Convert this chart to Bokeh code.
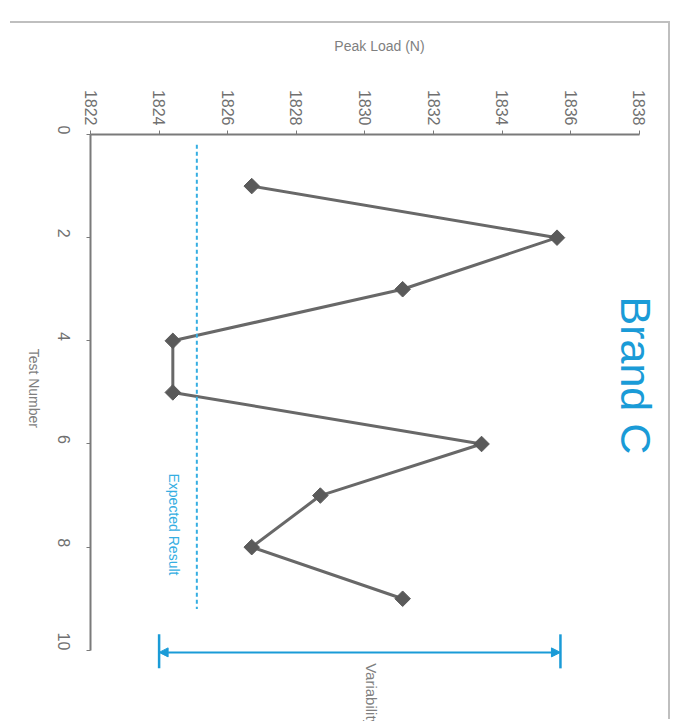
import math
from bokeh.plotting import figure
from bokeh.models import (Range1d, FixedTicker, Arrow, NormalHead, Spacer,
                          ColumnDataSource)
from bokeh.layouts import column, row
from bokeh.core.properties import value
from bokeh.embed import file_html
from bokeh.resources import INLINE

# ---- data ----
test_number = [1, 2, 3, 4, 5, 6, 7, 8, 9]
peak_load = [1826.7, 1835.6, 1831.1, 1824.4, 1824.4, 1833.4, 1828.7, 1826.7, 1831.1]
expected_result = 1825.1
expected_span = [0.2, 9.2]
variability_low = 1824.0
variability_high = 1835.7
x_ticks = [1822, 1824, 1826, 1828, 1830, 1832, 1834, 1836, 1838]
y_ticks = [0, 2, 4, 6, 8, 10]
title_text = "Brand C"

FONT = "Liberation Sans"
GREY = "#7f7f7f"
BLUE = "#1a9bd7"

p = figure(width=660, height=698, output_backend="svg", toolbar_location=None,
           x_axis_location="above",
           x_range=Range1d(1822, 1838.85), y_range=Range1d(11.38, 0),
           min_border_left=82, min_border_top=111, min_border_right=0,
           min_border_bottom=0)
p.styles = {"box-shadow": "2px -2px 0 0 #bfbfbf"}
p.outline_line_color = None
p.grid.visible = False
p.background_fill_color = "white"

xa = p.xaxis[0]
xa.ticker = FixedTicker(ticks=x_ticks)
xa.bounds = (x_ticks[0], x_ticks[-1])
xa.axis_label = "Peak Load (N)"
xa.major_label_orientation = -math.pi / 2
ya = p.yaxis[0]
ya.ticker = FixedTicker(ticks=y_ticks)
ya.bounds = (y_ticks[0], y_ticks[-1])
ya.axis_label = "Test Number"
ya.major_label_orientation = -math.pi / 2
try:
    ya.axis_label_orientation = -math.pi / 2
except Exception:
    pass

for ax in (xa, ya):
    ax.axis_line_color = "#7a7a7a"
    ax.axis_line_width = 2
    ax.major_tick_line_color = "#7a7a7a"
    ax.major_tick_line_width = 1
    ax.major_tick_out = 4
    ax.major_tick_in = 0
    ax.minor_tick_line_color = None
    ax.major_label_text_font = FONT
    ax.major_label_text_font_size = "16px"
    ax.major_label_text_color = "#707070"
    ax.axis_label_text_font = FONT
    ax.axis_label_text_font_size = "14px"
    ax.axis_label_text_font_style = "normal"
    ax.axis_label_text_color = GREY
xa.major_label_standoff = 5
xa.axis_label_standoff = 33
ya.major_label_standoff = 23
ya.axis_label_standoff = 15

src = ColumnDataSource(dict(x=peak_load, y=test_number))
p.line("x", "y", source=src, line_color="#686868", line_width=3)
p.scatter("x", "y", source=src, marker="square", size=11, angle=math.pi / 4,
          fill_color="#5a5a5a", line_color="#5a5a5a")

# expected result
p.line([expected_result, expected_result], expected_span, line_color="#35aee2",
       line_width=2, line_dash="4 3")
p.text(x=[expected_result - 0.66], y=[7.56], text=["Expected Result"],
       angle=-math.pi / 2, text_align="center", text_baseline="middle",
       text_font=value(FONT), text_font_size="14px", text_color="#35aee2")

# variability arrow
arrow_y = 10.04
p.add_layout(Arrow(x_start=variability_low, y_start=arrow_y,
                   x_end=variability_high, y_end=arrow_y,
                   line_color=BLUE, line_width=2,
                   start=NormalHead(size=9, fill_color=BLUE, line_color=BLUE),
                   end=NormalHead(size=9, fill_color=BLUE, line_color=BLUE)))
p.segment(x0=[variability_low, variability_high], y0=[9.69, 9.69],
          x1=[variability_low, variability_high], y1=[10.35, 10.35],
          line_color=BLUE, line_width=2.5)
p.text(x=[(variability_low + variability_high) / 2 + 0.35], y=[10.25],
       text=["Variability"], angle=-math.pi / 2, text_align="left",
       text_baseline="middle", text_font=value(FONT), text_font_size="15px",
       text_color=GREY)

# title
p.text(x=[1837.89], y=[4.67], text=[title_text], angle=-math.pi / 2,
       text_align="center", text_baseline="middle", text_font=value(FONT),
       text_font_size="43px", text_color=BLUE)

layout = row(Spacer(width=8, height=10),
             column(Spacer(height=23, width=660), p, spacing=0), spacing=0)
open("out.html", "w").write(file_html(layout, INLINE))
